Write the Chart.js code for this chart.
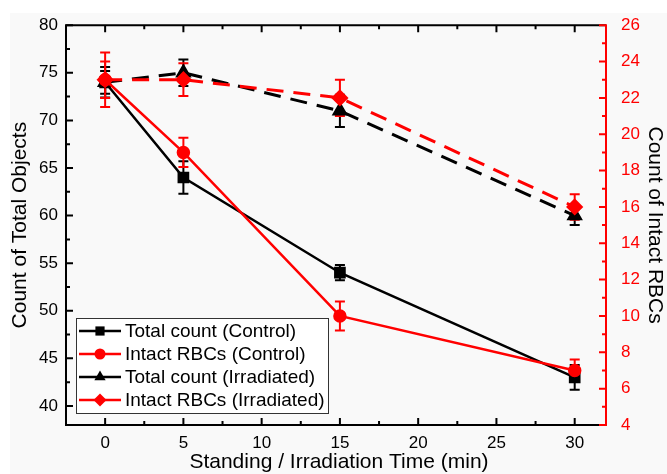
<!DOCTYPE html>
<html>
<head>
<meta charset="utf-8">
<script src="https://cdn.jsdelivr.net/npm/chart.js@4.4.1/dist/chart.umd.min.js"></script>
<style>
html, body { margin: 0; padding: 0; background: #fff; }
#wrap { width: 667px; height: 474px; position: relative; }
</style>
</head>
<body>
<div id="wrap"><canvas id="chart"></canvas></div>
<script>
// Values
const times = [0, 5, 15, 30];
const seriesLabels = ['Total count (Control)', 'Intact RBCs (Control)', 'Total count (Irradiated)', 'Intact RBCs (Irradiated)'];

const totalControl = [74, 64, 54, 43];
const totalControlErr = [1.6, 1.7, 0.8, 1.3];
const intactControl = [23, 19, 10, 7];
const intactControlErr = [1.5, 0.8, 0.8, 0.6];
const totalIrradiated = [74, 75, 71, 60];
const totalIrradiatedErr = [1.2, 1.4, 1.7, 1.0];
const intactIrradiated = [23, 23, 22, 16];
const intactIrradiatedErr = [1.0, 0.9, 1.0, 0.7];

const xTicks = [0, 5, 10, 15, 20, 25, 30];
const leftTicks = [40, 45, 50, 55, 60, 65, 70, 75, 80];
const rightTicks = [4, 6, 8, 10, 12, 14, 16, 18, 20, 22, 24, 26];

const xTitle = 'Standing / Irradiation Time (min)';
const leftTitle = 'Count of Total Objects';
const rightTitle = 'Count of Intact RBCs';

const BLACK = '#000000';
const RED = '#ff0000';
const FONT = "'Liberation Sans', Arial, sans-serif";

function points(arr) {
    return times.map((t, i) => ({ x: t, y: arr[i] }));
}

// minor ticks halfway between the major ones
function minors(ticks) {
    const step = ticks[1] - ticks[0];
    const out = [ticks[0] - step / 2];
    ticks.forEach(v => out.push(v + step / 2));
    return out;
}

// error bars, drawn through the dataset's own y scale
const errorBarPlugin = {
    id: 'errorBars',
    beforeDatasetsDraw(chart) {
        const ctx = chart.ctx;
        chart.data.datasets.forEach((ds, di) => {
            const meta = chart.getDatasetMeta(di);
            const yScale = chart.scales[ds.yAxisID];
            ctx.save();
            ctx.strokeStyle = ds.borderColor;
            ctx.lineWidth = 2;
            ds.data.forEach((p, i) => {
                const x = meta.data[i].x;
                const yTop = yScale.getPixelForValue(p.y + ds.errors[i]);
                const yBot = yScale.getPixelForValue(p.y - ds.errors[i]);
                ctx.beginPath();
                ctx.moveTo(x, yTop); ctx.lineTo(x, yBot);
                ctx.moveTo(x - 5, yTop); ctx.lineTo(x + 5, yTop);
                ctx.moveTo(x - 5, yBot); ctx.lineTo(x + 5, yBot);
                ctx.stroke();
            });
            ctx.restore();
        });
    }
};

// frame, inward ticks, legend box and axis titles
const decorPlugin = {
    id: 'decor',
    beforeDraw(chart) {
        const ctx = chart.ctx;
        ctx.save();
        ctx.fillStyle = '#ffffff';
        ctx.fillRect(0, 0, chart.width, chart.height);
        ctx.fillStyle = '#f9f9f9';
        ctx.fillRect(10, 13, chart.width - 10, chart.height - 13);
        ctx.restore();
    },
    afterDraw(chart) {
        const ctx = chart.ctx;
        const a = chart.chartArea;
        const xs = chart.scales.x, ys = chart.scales.y, ys1 = chart.scales.y1;
        ctx.save();
        ctx.lineWidth = 2;

        // x ticks bottom and top
        ctx.strokeStyle = BLACK;
        ctx.beginPath();
        xTicks.forEach(v => {
            const px = xs.getPixelForValue(v);
            ctx.moveTo(px, a.bottom); ctx.lineTo(px, a.bottom - 7);
            ctx.moveTo(px, a.top); ctx.lineTo(px, a.top + 7);
        });
        minors(xTicks).forEach(v => {
            if (v <= xs.min || v >= xs.max) return;
            const px = xs.getPixelForValue(v);
            ctx.moveTo(px, a.bottom); ctx.lineTo(px, a.bottom - 4);
            ctx.moveTo(px, a.top); ctx.lineTo(px, a.top + 4);
        });
        // left ticks
        leftTicks.forEach(v => {
            const py = ys.getPixelForValue(v);
            ctx.moveTo(a.left, py); ctx.lineTo(a.left + 7, py);
        });
        minors(leftTicks).forEach(v => {
            if (v <= ys.min || v >= ys.max) return;
            const py = ys.getPixelForValue(v);
            ctx.moveTo(a.left, py); ctx.lineTo(a.left + 4, py);
        });
        ctx.stroke();

        // frame
        ctx.beginPath();
        ctx.moveTo(a.right, a.top); ctx.lineTo(a.left, a.top);
        ctx.lineTo(a.left, a.bottom); ctx.lineTo(a.right, a.bottom);
        ctx.stroke();

        // right axis in red
        ctx.strokeStyle = RED;
        ctx.beginPath();
        ctx.moveTo(a.right, a.top - 1); ctx.lineTo(a.right, a.bottom + 1);
        rightTicks.forEach(v => {
            const py = ys1.getPixelForValue(v);
            ctx.moveTo(a.right, py); ctx.lineTo(a.right - 7, py);
        });
        minors(rightTicks).forEach(v => {
            if (v <= ys1.min || v >= ys1.max) return;
            const py = ys1.getPixelForValue(v);
            ctx.moveTo(a.right, py); ctx.lineTo(a.right - 4, py);
        });
        ctx.stroke();

        // legend
        const lx = 76, ly = 318, lw = 252, lh = 95, rowH = 23;
        ctx.fillStyle = '#ffffff';
        ctx.fillRect(lx, ly, lw, lh);
        ctx.lineWidth = 1;
        ctx.strokeStyle = '#333333';
        ctx.strokeRect(lx + 0.5, ly + 0.5, lw, lh);
        ctx.font = '19px ' + FONT;
        ctx.textBaseline = 'middle';
        chart.data.datasets.forEach((ds, i) => {
            const cy = ly + 13 + i * rowH;
            ctx.strokeStyle = ds.borderColor;
            ctx.lineWidth = 2.5;
            ctx.beginPath();
            ctx.moveTo(lx + 3, cy); ctx.lineTo(lx + 45, cy);
            ctx.stroke();
            ctx.fillStyle = ds.backgroundColor;
            Chart.helpers.drawPoint(ctx, { pointStyle: ds.pointStyle, radius: ds.pointRadius, borderWidth: 0 }, lx + 24, cy);
            ctx.fillStyle = BLACK;
            ctx.textAlign = 'left';
            ctx.fillText(ds.label, lx + 49, cy + 1);
        });

        // axis titles
        ctx.fillStyle = BLACK;
        ctx.font = '21px ' + FONT;
        ctx.textAlign = 'center';
        ctx.textBaseline = 'middle';
        ctx.fillText(xTitle, (a.left + a.right) / 2 + 3, 462);

        ctx.save();
        ctx.translate(20, (a.top + a.bottom) / 2);
        ctx.rotate(-Math.PI / 2);
        ctx.fillText(leftTitle, 0, 0);
        ctx.restore();

        ctx.save();
        ctx.translate(655, (a.top + a.bottom) / 2);
        ctx.rotate(Math.PI / 2);
        ctx.fillText(rightTitle, 0, 0);
        ctx.restore();

        ctx.restore();
    }
};

const ctx = document.getElementById('chart').getContext('2d');

new Chart(ctx, {
    type: 'line',
    data: {
        datasets: [
            {
                label: seriesLabels[0],
                data: points(totalControl),
                errors: totalControlErr,
                yAxisID: 'y',
                borderColor: BLACK,
                backgroundColor: BLACK,
                borderWidth: 2.5,
                pointStyle: 'rect',
                pointRadius: 6.5,
                order: 2
            },
            {
                label: seriesLabels[1],
                data: points(intactControl),
                errors: intactControlErr,
                yAxisID: 'y1',
                borderColor: RED,
                backgroundColor: RED,
                borderWidth: 2.5,
                pointStyle: 'circle',
                pointRadius: 5.5,
                order: 1
            },
            {
                label: seriesLabels[2],
                data: points(totalIrradiated),
                errors: totalIrradiatedErr,
                yAxisID: 'y',
                borderColor: BLACK,
                backgroundColor: BLACK,
                borderWidth: 3,
                borderDash: [17, 10],
                pointStyle: 'triangle',
                pointRadius: 6.5,
                order: 3
            },
            {
                label: seriesLabels[3],
                data: points(intactIrradiated),
                errors: intactIrradiatedErr,
                yAxisID: 'y1',
                borderColor: RED,
                backgroundColor: RED,
                borderWidth: 3,
                borderDash: [17, 10],
                pointStyle: 'rectRot',
                pointRadius: 6.5,
                order: 0
            }
        ]
    },
    options: {
        responsive: true,
        maintainAspectRatio: false,
        animation: false,
        layout: { padding: { top: 22, left: 0, right: 0, bottom: 0 } },
        elements: {
            line: { tension: 0, fill: false },
            point: { borderWidth: 0, hoverRadius: 6 }
        },
        plugins: {
            legend: { display: false },
            tooltip: { enabled: false }
        },
        scales: {
            x: {
                type: 'linear',
                position: 'bottom',
                min: -2.5,
                max: 32,
                afterBuildTicks: s => { s.ticks = xTicks.map(v => ({ value: v })); },
                afterFit: s => { s.height = 49; },
                grid: { display: false, drawTicks: false },
                border: { display: false },
                ticks: { color: BLACK, font: { size: 17, family: FONT }, padding: 8, autoSkip: false, maxRotation: 0 }
            },
            y: {
                type: 'linear',
                position: 'left',
                min: 38,
                max: 80,
                afterBuildTicks: s => { s.ticks = leftTicks.map(v => ({ value: v })); },
                afterFit: s => { s.width = 66; },
                grid: { display: false, drawTicks: false },
                border: { display: false },
                ticks: { color: BLACK, font: { size: 17, family: FONT }, padding: 8, autoSkip: false }
            },
            y1: {
                type: 'linear',
                position: 'right',
                min: 4,
                max: 26,
                afterBuildTicks: s => { s.ticks = rightTicks.map(v => ({ value: v })); },
                afterFit: s => { s.width = 61; },
                grid: { display: false, drawTicks: false },
                border: { display: false },
                ticks: { color: RED, font: { size: 17, family: FONT }, padding: 15, autoSkip: false }
            }
        }
    },
    plugins: [errorBarPlugin, decorPlugin]
});
</script>
</body>
</html>
